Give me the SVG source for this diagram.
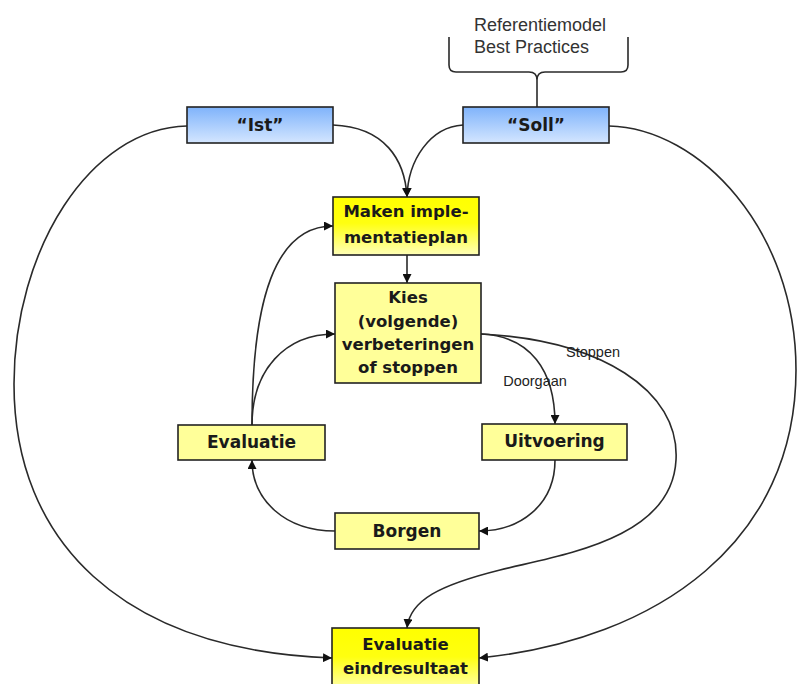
<svg xmlns="http://www.w3.org/2000/svg" width="797" height="684" viewBox="0 0 797 684">
<defs>
<linearGradient id="gBlue" x1="0" y1="0" x2="0" y2="1">
<stop offset="0" stop-color="#7fb3fb"/>
<stop offset="1" stop-color="#d4e6ff"/>
</linearGradient>
<linearGradient id="gYel" x1="0" y1="0" x2="0" y2="1">
<stop offset="0" stop-color="#ffff00"/>
<stop offset="0.45" stop-color="#ffff10"/>
<stop offset="1" stop-color="#ffffb8"/>
</linearGradient>
<linearGradient id="gYel2" x1="0" y1="0" x2="0" y2="1">
<stop offset="0" stop-color="#ffff00"/>
<stop offset="0.5" stop-color="#ffff20"/>
<stop offset="1" stop-color="#ffffa0"/>
</linearGradient>
<marker id="arr" viewBox="0 0 10 10" refX="10" refY="5" markerWidth="9" markerHeight="9" markerUnits="userSpaceOnUse" orient="auto">
<path d="M0,0 L10,5 L0,10 z" fill="#111"/>
</marker>
</defs>
<style>
.box{stroke:#222;stroke-width:1.6}
.blue{fill:url(#gBlue)}
.yel{fill:url(#gYel)}
.lt{fill:#ffff99}
.lbl{font-family:"DejaVu Sans",Verdana,sans-serif;font-weight:bold;font-size:16.5px;fill:#1a1a1a;text-anchor:middle}
.big{font-size:17px}
.edge{fill:none;stroke:#2a2a2a;stroke-width:1.6}
.el{font-family:"Liberation Sans",Arial,sans-serif;font-size:14.5px;fill:#222;text-anchor:middle}
.ref{font-family:"Liberation Sans",Arial,sans-serif;font-size:18px;fill:#333}
</style>
<rect width="797" height="684" fill="#fff"/>

<g id="connectors">
<path class="edge" d="M449,37 V65 Q449,72 456,72 H529 Q537,72 537,80 Q537,72 545,72 H621 Q628,72 628,65 V37"/>
<path class="edge" d="M537,80 V107"/>
<path class="edge" marker-end="url(#arr)" d="M333,125 C385,127 405,160 407,197"/>
<path class="edge" marker-end="url(#arr)" d="M463,125 C430,127 408,160 407,197"/>
<path class="edge" marker-end="url(#arr)" d="M407,255 V283"/>
<path class="edge" marker-end="url(#arr)" d="M187,126 C90,128 14,250 14,384 C14,540 120,650 332,658"/>
<path class="edge" marker-end="url(#arr)" d="M609,126 C700,128 796,230 796,370 C796,540 660,640 479,658"/>
<path class="edge" marker-end="url(#arr)" d="M481,334 C530,336 555,370 555,424"/>
<path class="edge" marker-end="url(#arr)" d="M481,334 C600,340 680,390 676,460 C672,540 560,555 500,570 C440,585 410,600 407,628"/>
<path class="edge" marker-end="url(#arr)" d="M555,460 C555,505 520,531 479,531"/>
<path class="edge" marker-end="url(#arr)" d="M335,531 C285,531 252,500 252,460"/>
<path class="edge" marker-end="url(#arr)" d="M252,425 C252,300 275,226 333,226"/>
<path class="edge" marker-end="url(#arr)" d="M252,425 C252,370 285,334 335,334"/>
<text class="el" x="535" y="386">Doorgaan</text>
<text class="el" x="593" y="357">Stoppen</text>
</g>

<g id="referentiemodel">
<text class="ref" x="474" y="31">Referentiemodel</text>
<text class="ref" x="474" y="53">Best Practices</text>
</g>

<g id="ist">
<rect class="box blue" x="187" y="107" width="146" height="36"/>
<text class="lbl big" x="260" y="131">“Ist”</text>
</g>

<g id="soll">
<rect class="box blue" x="463" y="107" width="146" height="36"/>
<text class="lbl big" x="536" y="131">“Soll”</text>
</g>

<g id="maken">
<rect class="box yel" x="333" y="197" width="146" height="58"/>
<text class="lbl" x="406" y="217">Maken imple-</text>
<text class="lbl" x="406" y="243">mentatieplan</text>
</g>

<g id="kies">
<rect class="box lt" x="335" y="283" width="146" height="100"/>
<text class="lbl" x="408" y="303">Kies</text>
<text class="lbl" x="408" y="327">(volgende)</text>
<text class="lbl" x="408" y="350">verbeteringen</text>
<text class="lbl" x="408" y="373">of stoppen</text>
</g>

<g id="evaluatie">
<rect class="box lt" x="178" y="425" width="147" height="35"/>
<text class="lbl big" x="251.5" y="448">Evaluatie</text>
</g>

<g id="uitvoering">
<rect class="box lt" x="482" y="424" width="145" height="36"/>
<text class="lbl big" x="554.5" y="447">Uitvoering</text>
</g>

<g id="borgen">
<rect class="box lt" x="335" y="513" width="144" height="36"/>
<text class="lbl big" x="407" y="537">Borgen</text>
</g>

<g id="eindresultaat">
<rect class="box yel" x="332" y="628" width="147" height="64"/>
<text class="lbl" x="405.5" y="650">Evaluatie</text>
<text class="lbl" x="405.5" y="674">eindresultaat</text>
</g>
</svg>
